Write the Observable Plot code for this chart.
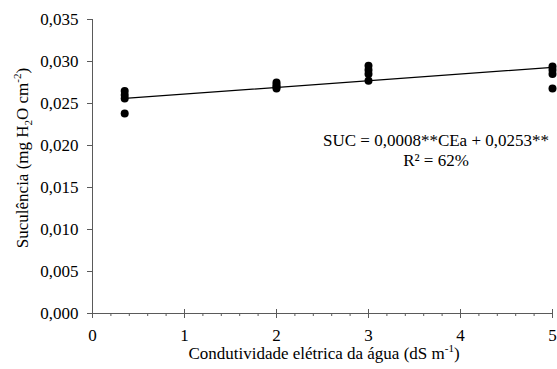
<!DOCTYPE html>
<html><head><meta charset="utf-8">
<script src="https://cdn.jsdelivr.net/npm/d3@7"></script>
<script src="https://cdn.jsdelivr.net/npm/@observablehq/plot@0.6"></script>
<style>body{margin:0;background:#fff}#chart svg{display:block}</style>
</head><body><div id="chart"></div>
<script>
// Data
const conductivity = [0.35, 0.35, 0.35, 0.35, 2, 2, 2, 2, 3, 3, 3, 3, 5, 5, 5, 5];
const succulence   = [0.0265, 0.0260, 0.0256, 0.0238,
                      0.0275, 0.0272, 0.0270, 0.0268,
                      0.0295, 0.0290, 0.0285, 0.0277,
                      0.0294, 0.0290, 0.0285, 0.0268];
const fitX = [0.35, 5];
const fitY = [0.0256, 0.0293];
const xMajor = [0, 1, 2, 3, 4, 5];
const xMinor = [0.2,0.4,0.6,0.8,1.2,1.4,1.6,1.8,2.2,2.4,2.6,2.8,3.2,3.4,3.6,3.8,4.2,4.4,4.6,4.8];
const yTicks = [0, 0.005, 0.010, 0.015, 0.020, 0.025, 0.030, 0.035];
const equationLine1 = "SUC = 0,0008**CEa + 0,0253**";
const equationLine2 = "R² = 62%";

const points = conductivity.map((x, i) => ({x, y: succulence[i]}));
const fit = fitX.map((x, i) => ({x, y: fitY[i]}));
const font = "'Liberation Serif', 'Times New Roman', serif";
const axisColor = "#5a5a5a";

const chart = Plot.plot({
  width: 557, height: 369,
  marginLeft: 92, marginRight: 5, marginTop: 19, marginBottom: 56,
  style: {fontFamily: font, fontSize: "17px", color: "black", background: "white"},
  x: {domain: [0, 5]},
  y: {domain: [0, 0.035]},
  marks: [
    Plot.ruleX([0], {stroke: axisColor}),
    Plot.ruleY([0], {stroke: axisColor}),
    Plot.axisY({ticks: yTicks, tickSize: 5, tickPadding: 9, stroke: axisColor, label: null,
      tickFormat: d => d.toFixed(3).replace(".", ",")}),
    Plot.axisX({ticks: xMajor, tickSize: 0, tickPadding: 15, label: null, tickFormat: d => String(d)}),
    Plot.axisX({ticks: xMajor, tickSize: 9, dy: -4, stroke: axisColor, label: null, tickFormat: () => ""}),
    Plot.axisX({ticks: xMinor, tickSize: 3, stroke: axisColor, label: null, tickFormat: () => ""}),
    Plot.line(fit, {x: "x", y: "y", stroke: "black", strokeWidth: 1.2}),
    Plot.dot(points, {x: "x", y: "y", r: 4, fill: "black", stroke: "none"})
  ]
});
document.getElementById("chart").appendChild(chart);

const svg = d3.select(chart);
function addText(g, parts) {
  parts.forEach(p => {
    const t = g.append("tspan").text(p.t);
    if (p.sub) t.attr("font-size", 11).attr("dy", 4);
    if (p.sup) t.attr("font-size", 11).attr("dy", -7);
    if (p.back) t.attr("dy", p.back);
  });
}
// Y title
const yt = svg.append("text")
  .attr("transform", "translate(28,158) rotate(-90)")
  .attr("text-anchor", "middle").attr("font-family", font).attr("font-size", 17).attr("fill", "black");
addText(yt, [{t: "Suculência (mg H"}, {t: "2", sub: true}, {t: "O cm", back: -4}, {t: "-2", sup: true}, {t: ")", back: 7}]);
// X title
const xt = svg.append("text")
  .attr("x", 324).attr("y", 359)
  .attr("text-anchor", "middle").attr("font-family", font).attr("font-size", 17).attr("fill", "black");
addText(xt, [{t: "Condutividade elétrica da água (dS m"}, {t: "-1", sup: true}, {t: ")", back: 7}]);
// Equation
svg.append("text").attr("x", 436).attr("y", 146).attr("text-anchor", "middle")
  .attr("font-family", font).attr("font-size", 17).attr("fill", "black").text(equationLine1);
svg.append("text").attr("x", 436).attr("y", 166).attr("text-anchor", "middle")
  .attr("font-family", font).attr("font-size", 17).attr("fill", "black").text(equationLine2);
</script>
</body></html>
